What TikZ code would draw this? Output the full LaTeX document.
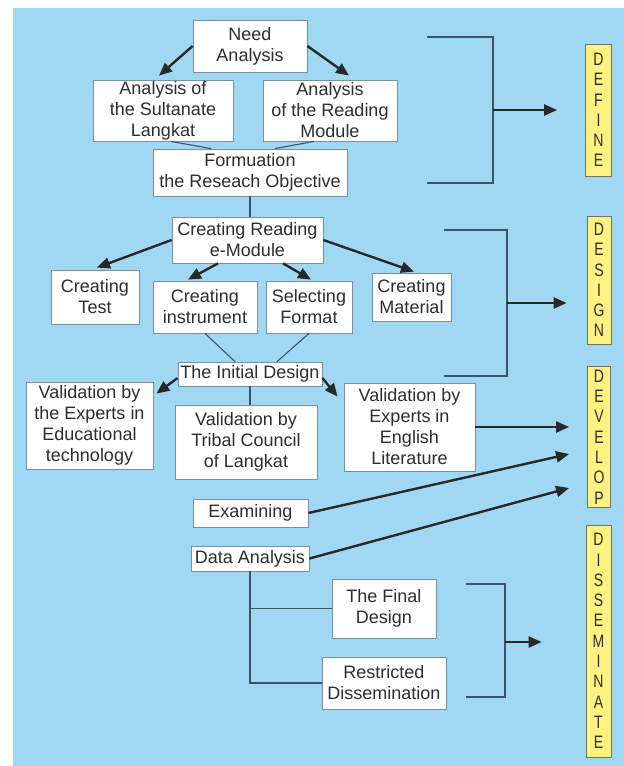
\documentclass[tikz,border=0pt]{standalone}
\usepackage{fontspec}
\setmainfont{Liberation Sans}
\newfontfamily\phasefont[FakeStretch=0.78]{Liberation Sans}
\usetikzlibrary{calc,arrows.meta}
\definecolor{bgblue}{RGB}{160,216,243}
\definecolor{phasey}{RGB}{255,242,128}
\definecolor{phaseline}{RGB}{110,115,100}
\definecolor{boxline}{RGB}{120,145,160}
\definecolor{thinline}{RGB}{55,85,105}
\definecolor{arrowc}{RGB}{40,40,40}
\definecolor{txt}{RGB}{45,45,45}
\begin{document}
\begin{tikzpicture}[x=1pt,y=-1pt,
 box/.style={draw=boxline, fill=white, line width=0.8pt, inner sep=0pt, align=center, text=txt, font=\fontsize{18}{21}\selectfont},
 phase/.style={draw=phaseline, fill=phasey, line width=0.8pt, inner sep=0pt, align=center, text=txt, font=\phasefont\fontsize{18}{20.3}\selectfont},
 arr/.style={draw=arrowc, line width=2.4pt, -{Triangle[length=13pt,width=11pt]}},
 thin/.style={draw=thinline, line width=1.1pt}]
\useasboundingbox (0,0) rectangle (624,766);
\fill[bgblue] (13,8) rectangle (624,766);

% nodes
\node[box, minimum width=114pt, minimum height=52pt] (need) at (250,46) {Need\\Analysis};
\node[box, minimum width=140pt, minimum height=61pt] (sult) at (163,110.5) {Analysis of\\the Sultanate\\Langkat};
\node[box, minimum width=134pt, minimum height=61pt] (read) at (330,110.5) {Analysis\\of the Reading\\Module};
\node[box, minimum width=194pt, minimum height=47pt] (form) at (250,172.5) {Formuation\\the Reseach Objective};
\node[box, minimum width=151pt, minimum height=46pt] (crm) at (247.5,240) {Creating Reading\\e-Module};
\node[box, minimum width=88pt, minimum height=54pt] (ctest) at (95,297) {Creating\\Test};
\node[box, minimum width=104pt, minimum height=52pt] (cinst) at (205,307) {Creating\\instrument};
\node[box, minimum width=86pt, minimum height=52pt] (sfmt) at (309,307) {Selecting\\Format};
\node[box, minimum width=79pt, minimum height=48pt] (cmat) at (411.5,297) {Creating\\Material};
\node[box, minimum width=144pt, minimum height=24pt] (init) at (250,374) {The Initial Design};
\node[box, minimum width=127pt, minimum height=87pt] (vedu) at (89.5,425.5) {Validation by\\the Experts in\\Educational\\technology};
\node[box, minimum width=142pt, minimum height=74pt] (vtrib) at (246,442) {Validation by\\Tribal Council\\of Langkat};
\node[box, minimum width=131pt, minimum height=88pt] (veng) at (409.5,427) {Validation by\\Experts in\\English\\Literature};
\node[box, minimum width=115pt, minimum height=28pt] (exam) at (250.5,513) {Examining};
\node[box, minimum width=118pt, minimum height=25pt] (data) at (250,558.5) {Data Analysis};
\node[box, minimum width=104pt, minimum height=59pt] (final) at (384,608.5) {The Final\\Design};
\node[box, minimum width=124pt, minimum height=52pt] (restr) at (384,683) {Restricted\\Dissemination};

% phase boxes
\node[phase, minimum width=26pt, minimum height=132pt] (define) at (598.5,110) {D\\E\\F\\I\\N\\E};
\node[phase, minimum width=24pt, minimum height=128pt] (design) at (599,280) {D\\E\\S\\I\\G\\N};
\node[phase, minimum width=23pt, minimum height=141pt] (develop) at (599,437) {D\\E\\V\\E\\L\\O\\P};
\node[phase, minimum width=25pt, minimum height=232pt] (dissem) at (598.5,641) {D\\I\\S\\S\\E\\M\\I\\N\\A\\T\\E};

% connectors
\draw[arr] (need.west) -- ($(sult.north)+(-4,-4)$);
\draw[arr] (need.east) -- ($(read.north)+(19,-4)$);
\draw[thin] ($(sult.south)+(8,0)$) -- ($(form.north)+(-39,0)$);
\draw[thin] ($(read.south)+(-16,0)$) -- ($(form.north)+(25,0)$);
\draw[thin] (form.south) -- (form.south |- crm.north);
\draw[arr] (crm.west) -- ($(ctest.north)+(2,-2)$);
\draw[arr] ($(crm.south)+(-29.5,0)$) -- ($(cinst.north)+(-17,-1)$);
\draw[arr] ($(crm.south)+(35.5,0)$) -- ($(sfmt.north)+(2,-1)$);
\draw[arr] (crm.east) -- ($(cmat.north)+(2.5,-1)$);
\draw[thin] (cinst.south) -- ($(init.north)+(-15,0)$);
\draw[thin] (sfmt.south) -- ($(init.north)+(27,0)$);
\draw[arr] ($(init.west)+(0,4)$) -- ($(vedu.north east)+(3,12)$);
\draw[arr] ($(init.east)+(0,4)$) -- ($(veng.north west)+(-6,14)$);
\draw[thin] (init.south) -- (init.south |- vtrib.north);
\draw[arr] (veng.east) -- ($(develop.west)+(-18,-10)$);
\draw[arr] (exam.east) -- ($(develop.west)+(-18,17)$);
\draw[arr] (data.east) -- ($(develop.west)+(-18,51)$);
\draw[thin] (data.south) |- (restr.west);
\draw[thin] (data.south |- final.west) -- (final.west);

% brackets
\coordinate (b1t) at (427,37);
\coordinate (b1b) at (427,183);
\coordinate (b1m) at (493,110);
\draw[thin] (b1t) -| (b1m) |- (b1b);
\draw[arr] (b1m) -- ($(define.west)+(-28,0)$);
\coordinate (b2t) at (444,230);
\coordinate (b2b) at (444,376);
\coordinate (b2m) at (507,303);
\draw[thin] (b2t) -| (b2m) |- (b2b);
\draw[arr] (b2m) -- ($(design.west |- b2m)+(-20,0)$);
\coordinate (b3t) at (466,584);
\coordinate (b3b) at (466,697);
\coordinate (b3m) at (505,642);
\draw[thin] (b3t) -| (b3m) |- (b3b);
\draw[arr] (b3m) -- ($(dissem.west |- b3m)+(-44,0)$);
\end{tikzpicture}
\end{document}
